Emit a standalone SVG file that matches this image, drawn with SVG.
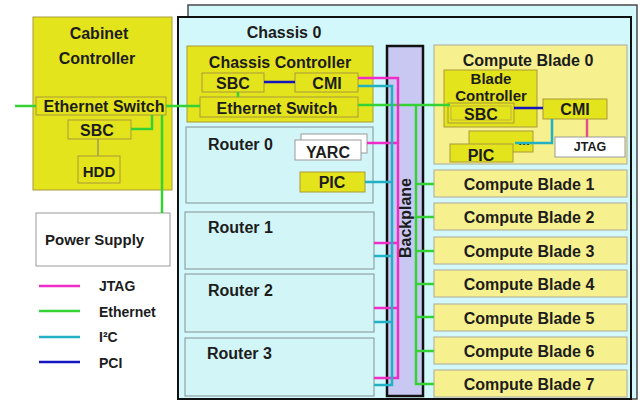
<svg xmlns="http://www.w3.org/2000/svg" width="642" height="402" viewBox="0 0 642 402">
  <style>
    text { font-family: "Liberation Sans", Arial, sans-serif; font-weight: bold; fill: #1c1c1c; }
    .t16 { font-size: 16px; }
    .t15 { font-size: 15px; }
    .t14 { font-size: 14px; }
    .t12 { font-size: 12.5px; }
    .mid { text-anchor: middle; }
    .yel { fill: #e4e41c; stroke: #a89a3a; stroke-width: 1; }
    .pale { fill: #f7f08e; stroke: #b6b6a0; stroke-width: 1.2; }
    .white { fill: #ffffff; stroke: #9a9a9a; stroke-width: 1; }
    .router { fill: #d2f5f8; stroke: #8fa3a6; stroke-width: 1.2; }
    .wire { fill: none; stroke-width: 2.5; stroke-linejoin: miter; }
    .eth { stroke: #35d235; }
    .jtag { stroke: #f02cc8; }
    .i2c { stroke: #22b0c4; }
    .pci { stroke: #1414c0; }
  </style>

  <rect width="642" height="402" fill="#ffffff"/>

  <!-- Cabinet controller -->
  <g id="cabinet-controller">
    <rect class="yel" x="33" y="17" width="139" height="173"/>
    <text class="t16 mid" x="99" y="39">Cabinet</text>
    <text class="t16 mid" x="97" y="64">Controller</text>
    <rect class="yel" x="36" y="97" width="130" height="18"/>
    <text class="t16 mid" x="104" y="112">Ethernet Switch</text>
    <rect class="yel" x="68" y="120" width="63" height="19"/>
    <text class="t16 mid" x="97" y="136">SBC</text>
    <line x1="98" y1="139" x2="98" y2="156" stroke="#8a8a6a" stroke-width="1.2"/>
    <rect class="yel" x="78" y="156" width="42" height="27"/>
    <text class="t15 mid" x="99" y="177">HDD</text>
  </g>

  <!-- Power supply -->
  <g id="power-supply">
    <rect class="white" x="36" y="213" width="134" height="53"/>
    <text class="t15" x="45" y="245">Power Supply</text>
  </g>

  <!-- Legend -->
  <g id="legend">
    <line class="wire jtag" x1="39" y1="286" x2="80" y2="286"/>
    <text class="t14" x="99" y="291">JTAG</text>
    <line class="wire eth" x1="39" y1="311" x2="80" y2="311"/>
    <text class="t14" x="99" y="317">Ethernet</text>
    <line class="wire i2c" x1="39" y1="337" x2="80" y2="337"/>
    <text class="t14" x="99" y="342">I²C</text>
    <line class="wire pci" x1="39" y1="362" x2="80" y2="362"/>
    <text class="t14" x="99" y="368">PCI</text>
  </g>

  <!-- Chassis: back panel and front panel -->
  <g id="chassis-0">
    <rect x="188" y="5" width="449" height="394" fill="#d3f8fb" stroke="#4a4a4a" stroke-width="1.5"/>
    <rect x="178" y="17" width="453" height="382" fill="#d3f8fb" stroke="#111111" stroke-width="2"/>
    <text class="t16 mid" x="284" y="38">Chassis 0</text>
  </g>

  <g id="chassis-controller">
    <rect class="yel" x="187" y="46" width="186" height="76"/>
    <text class="t16 mid" x="280" y="68">Chassis Controller</text>
    <rect class="yel" x="202" y="73" width="62" height="19"/>
    <text class="t16 mid" x="233" y="89">SBC</text>
    <rect class="yel" x="295" y="73" width="63" height="19"/>
    <text class="t16 mid" x="327" y="89">CMI</text>
    <rect class="yel" x="200" y="97" width="158" height="20"/>
    <text class="t16 mid" x="277" y="114">Ethernet Switch</text>
  </g>

  <g id="router-0">
    <rect class="router" x="186" y="127" width="187" height="76"/>
    <text class="t16" x="208" y="150">Router 0</text>
    <rect class="white" x="301" y="134" width="66" height="19"/>
    <rect class="white" x="295" y="140" width="66" height="20"/>
    <text class="t16 mid" x="328" y="158">YARC</text>
    <rect class="yel" x="300" y="172" width="65" height="20"/>
    <text class="t16 mid" x="332" y="188">PIC</text>
  </g>

  <g id="router-1">
    <rect class="router" x="185" y="212" width="189" height="57"/>
    <text class="t16" x="208" y="233">Router 1</text>
  </g>
  <g id="router-2">
    <rect class="router" x="185" y="274" width="189" height="58"/>
    <text class="t16" x="208" y="296">Router 2</text>
  </g>
  <g id="router-3">
    <rect class="router" x="185" y="338" width="189" height="58"/>
    <text class="t16" x="207" y="359">Router 3</text>
  </g>

  <g id="backplane">
    <rect x="387" y="46" width="36" height="350" fill="#c9c8f3" stroke="#111111" stroke-width="2.5"/>
  </g>

  <g id="compute-blade-0">
    <rect class="pale" x="434" y="45" width="193" height="119"/>
    <text class="t16 mid" x="528" y="66">Compute Blade 0</text>
    <rect class="yel" x="444" y="70" width="93" height="57"/>
    <text class="t15 mid" x="491" y="84">Blade</text>
    <text class="t15 mid" x="491" y="101">Controller</text>
    <rect class="yel" x="448" y="103" width="66" height="20"/>
    <rect x="451" y="106" width="60" height="14" fill="none" stroke="#b8a840" stroke-width="0.8"/>
    <text class="t16 mid" x="481" y="120">SBC</text>
    <rect class="yel" x="543" y="99" width="64" height="20"/>
    <text class="t16 mid" x="575" y="115">CMI</text>
    <rect class="white" x="555" y="137" width="70" height="20"/>
    <text class="t12 mid" x="590" y="151">JTAG</text>
    <rect class="yel" x="469" y="131" width="64" height="21"/>
    <text class="t14 mid" x="524" y="145">...</text>
    <rect class="yel" x="450" y="144" width="63" height="18"/>
    <text class="t16 mid" x="481" y="161">PIC</text>
  </g>

  <g id="compute-blade-1"><rect class="pale" x="434" y="170" width="193" height="27"/><text class="t16 mid" x="529" y="190">Compute Blade 1</text></g>
  <g id="compute-blade-2"><rect class="pale" x="434" y="203" width="193" height="27"/><text class="t16 mid" x="529" y="223">Compute Blade 2</text></g>
  <g id="compute-blade-3"><rect class="pale" x="434" y="237" width="193" height="27"/><text class="t16 mid" x="529" y="257">Compute Blade 3</text></g>
  <g id="compute-blade-4"><rect class="pale" x="434" y="270" width="193" height="27"/><text class="t16 mid" x="529" y="290">Compute Blade 4</text></g>
  <g id="compute-blade-5"><rect class="pale" x="434" y="304" width="193" height="27"/><text class="t16 mid" x="529" y="324">Compute Blade 5</text></g>
  <g id="compute-blade-6"><rect class="pale" x="434" y="337" width="193" height="27"/><text class="t16 mid" x="529" y="357">Compute Blade 6</text></g>
  <g id="compute-blade-7"><rect class="pale" x="434" y="370" width="193" height="27"/><text class="t16 mid" x="529" y="390">Compute Blade 7</text></g>

  <!-- Connectors -->
  <g id="connectors">
    <!-- Ethernet -->
    <line class="wire eth" x1="15" y1="106" x2="36" y2="106"/>
    <line class="wire eth" x1="166" y1="106" x2="200" y2="106"/>
    <polyline class="wire eth" points="131,129 152,129 152,115"/>
    <line class="wire eth" x1="162" y1="115" x2="162" y2="213"/>
    <line class="wire eth" x1="238" y1="92" x2="238" y2="97"/>
    <line class="wire eth" x1="358" y1="105" x2="450" y2="105"/>
    <polyline class="wire eth" points="416,105 416,384 434,384"/>
    <line class="wire eth" x1="416" y1="184" x2="434" y2="184"/>
    <line class="wire eth" x1="416" y1="217" x2="434" y2="217"/>
    <line class="wire eth" x1="416" y1="251" x2="434" y2="251"/>
    <line class="wire eth" x1="416" y1="284" x2="434" y2="284"/>
    <line class="wire eth" x1="416" y1="317" x2="434" y2="317"/>
    <line class="wire eth" x1="416" y1="351" x2="434" y2="351"/>

    <!-- PCI -->
    <line class="wire pci" x1="264" y1="82" x2="295" y2="82"/>
    <line class="wire pci" x1="514" y1="108" x2="543" y2="108"/>

    <!-- JTAG -->
    <polyline class="wire jtag" points="358,78 398,78 398,378 374,378"/>
    <line class="wire jtag" x1="367" y1="143" x2="398" y2="143"/>
    <line class="wire jtag" x1="374" y1="243" x2="398" y2="243"/>
    <line class="wire jtag" x1="374" y1="308" x2="398" y2="308"/>
    <line class="wire" stroke="#e0508c" x1="587" y1="119" x2="587" y2="137"/>

    <!-- I2C -->
    <polyline class="wire i2c" points="358,86 392,86 392,385 374,385"/>
    <line class="wire i2c" x1="365" y1="182" x2="392" y2="182"/>
    <line class="wire i2c" x1="374" y1="256" x2="392" y2="256"/>
    <line class="wire i2c" x1="374" y1="322" x2="392" y2="322"/>
    <polyline class="wire i2c" points="515,143 552,143 552,119"/>
  </g>

  <text class="t16 mid" transform="translate(411,218) rotate(-90)">Backplane</text>
</svg>
